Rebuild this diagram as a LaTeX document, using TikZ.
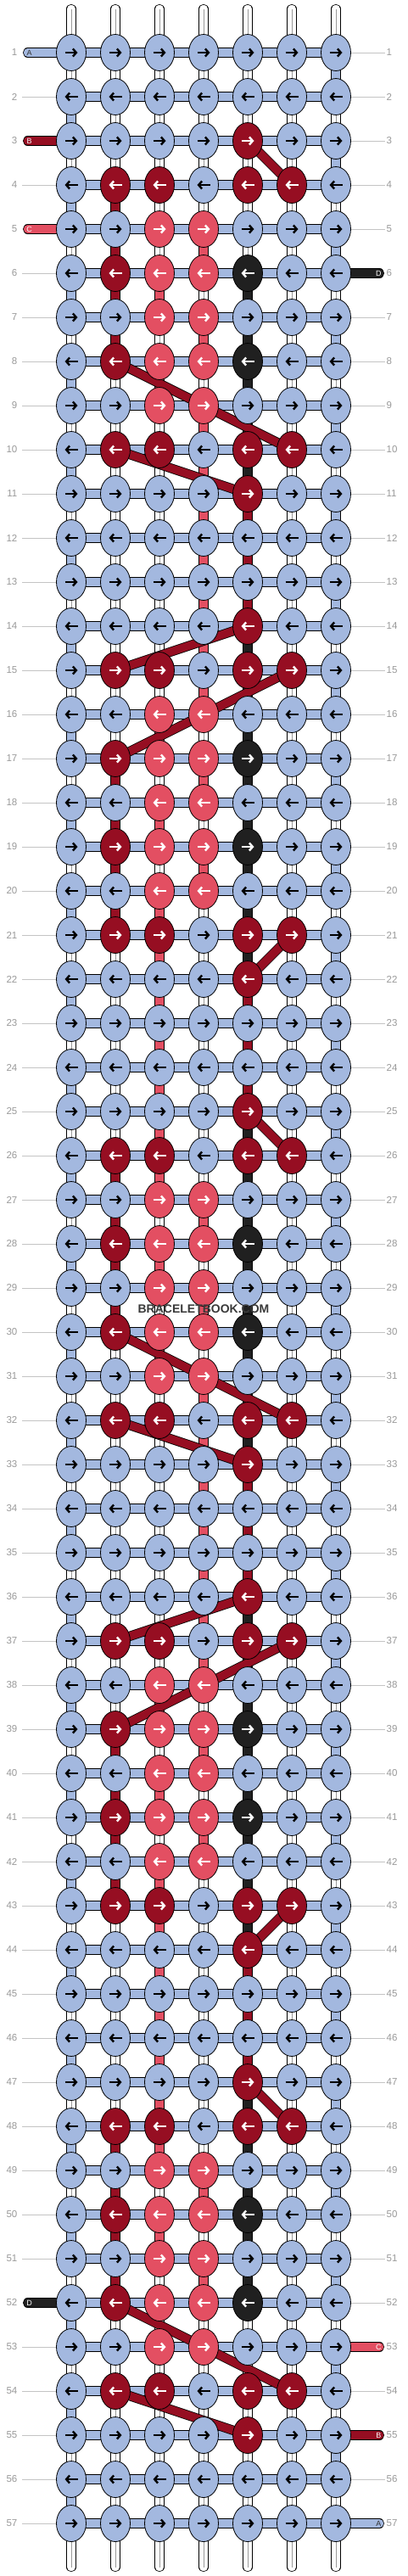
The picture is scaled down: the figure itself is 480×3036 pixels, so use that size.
\documentclass[tikz,border=0pt]{standalone}
\usepackage{fontspec}
\setmainfont{Liberation Sans}
\usetikzlibrary{shapes.geometric,arrows.meta}
\definecolor{cb}{HTML}{A3B8DF}
\definecolor{cr}{HTML}{960E22}
\definecolor{cp}{HTML}{E34F62}
\definecolor{ck}{HTML}{202020}
\definecolor{cnum}{HTML}{999999}
\definecolor{cline}{HTML}{C4C4C4}
\definecolor{cmark}{HTML}{3A3A3A}
\tikzset{
  knot/.style={ellipse, draw=black, line width=0.8pt, minimum width=35pt, minimum height=43pt, inner sep=0pt},
  band/.style={draw=black, line width=0.8pt, double=#1, double distance=9.6pt},
  tailband/.style={band=#1, line cap=round},
  strand/.style={draw=black!40, line width=0.6pt},
  rowline/.style={draw=cline, line width=1pt},
  rownum/.style={text=cnum, font=\fontsize{11.5}{12}\selectfont, inner sep=0pt},
  taillabel/.style={font=\fontsize{9}{9}\selectfont, inner sep=0pt},
  arr/.style={line width=2.4pt, -{Straight Barb[length=4pt,width=9pt]}},
  wmark/.style={font=\bfseries\fontsize{14}{14}\selectfont, text=cmark, inner sep=0pt}
}
\begin{document}
\begin{tikzpicture}[x=1pt,y=-1pt]
\useasboundingbox (0,0) rectangle (480,3036);
% grid coordinates
\foreach \ro in {1,...,57}{
  \foreach \co in {1,...,7}{
    \coordinate (k-\ro-\co) at ({84+52*(\co-1)},{62+52*(\ro-1)});
  }
  \coordinate (ll-\ro) at (26,{62+52*(\ro-1)});
  \coordinate (rl-\ro) at (454,{62+52*(\ro-1)});
  \node[rownum, anchor=east] (nl-\ro) at (20.5,{62+52*(\ro-1)}) {\ro};
  \node[rownum, anchor=west] (nr-\ro) at (455.5,{62+52*(\ro-1)}) {\ro};
}
\foreach \co in {1,...,7}{
  \coordinate (t-\co) at ({84+52*(\co-1)},10.5);
  \coordinate (b-\co) at ({84+52*(\co-1)},3025.5);
}
% row guide lines
\foreach \ro in {2,4,6,7,...,51,53,54,...,57}{
  \draw[rowline] (ll-\ro) -- (k-\ro-1);
}
\foreach \ro in {1,2,3,4,5,7,8,...,52,54,56}{
  \draw[rowline] (k-\ro-7) -- (rl-\ro);
}
% tails
\coordinate (tlA) at (32.6,62);
\coordinate (tlB) at (32.6,166);
\coordinate (tlC) at (32.6,270);
\coordinate (tlD) at (32.6,2714);
\coordinate (trD) at (447.4,322);
\coordinate (trC) at (447.4,2766);
\coordinate (trB) at (447.4,2870);
\coordinate (trA) at (447.4,2974);
\draw[tailband=cb] (tlA) -- (k-1-1);
\draw[tailband=cr] (tlB) -- (k-3-1);
\draw[tailband=cp] (tlC) -- (k-5-1);
\draw[tailband=ck] (tlD) -- (k-52-1);
\draw[tailband=ck] (trD) -- (k-6-7);
\draw[tailband=cp] (trC) -- (k-53-7);
\draw[tailband=cr] (trB) -- (k-55-7);
\draw[tailband=cb] (trA) -- (k-57-7);
\node[taillabel, text=black!80] (lA) at ([xshift=2pt]tlA) {A};
\node[taillabel, text=white] (lB) at ([xshift=2pt]tlB) {B};
\node[taillabel, text=white] (lC) at ([xshift=2pt]tlC) {C};
\node[taillabel, text=white] (lD) at ([xshift=2pt]tlD) {D};
\node[taillabel, text=white] (rD) at ([xshift=-1pt]trD) {D};
\node[taillabel, text=white] (rC) at ([xshift=-1pt]trC) {C};
\node[taillabel, text=white] (rB) at ([xshift=-1pt]trB) {B};
\node[taillabel, text=black!80] (rA) at ([xshift=-1pt]trA) {A};
% horizontal bars
\foreach \ro in {1,...,57}{
  \foreach \co [evaluate=\co as \cn using int(\co+1)] in {1,...,6}{
    \draw[band=cb] (k-\ro-\co) -- (k-\ro-\cn);
  }
}
% top and bottom strings
\foreach \co in {1,...,7}{
  \draw[tailband=white] (t-\co) -- (k-1-\co);
  \draw[strand] (t-\co) -- (k-1-\co);
  \draw[tailband=white] (k-57-\co) -- (b-\co);
  \draw[strand] (k-57-\co) -- (b-\co);
}
% vertical segments
\foreach \g in {1,...,56}{
  \pgfmathtruncatemacro\gn{\g+1}
  \foreach \co in {1,...,7}{
    \ifnum\g<6
      \pgfmathtruncatemacro\code{{0,0,0,0,0,0,4, 4,0,0,0,0,0,0, 0,0,0,0,0,0,4, 4,1,0,0,0,0,0, 0,1,0,2,0,0,4}[(\g-1)*7+\co-1]}
    \else\ifnum\g>51
      \def\code{0}
      \ifodd\g \ifnum\co=7 \def\code{4}\fi \else \ifnum\co=1 \def\code{4}\fi \fi
    \else
      \pgfmathtruncatemacro\code{{4,1,2,0,3,0,0, 0,1,0,2,3,0,4, 4,0,2,0,3,0,0, 0,0,0,2,3,0,4, 4,0,0,2,3,0,0, 0,0,0,2,1,0,4, 4,0,0,2,1,0,0, 0,0,0,2,1,0,4, 4,0,0,2,3,0,0, 0,0,0,2,3,0,4, 4,0,2,0,3,0,0, 0,1,0,2,3,0,4, 4,1,2,0,3,0,0, 0,1,0,2,3,0,4, 4,1,2,0,3,0,0, 0,0,2,0,3,0,4, 4,0,2,0,1,0,0, 0,0,2,0,1,0,4, 4,0,2,0,1,0,0, 0,0,2,0,3,0,4, 4,1,2,0,3,0,0, 0,1,0,2,3,0,4}[mod(\g-6,22)*7+\co-1]}
    \fi\fi
    \ifcase\code \def\sc{white}\or\def\sc{cr}\or\def\sc{cp}\or\def\sc{ck}\or\def\sc{cb}\fi
    \draw[band=\sc] (k-\g-\co) -- (k-\gn-\co);
    \ifnum\code=0 \draw[strand] (k-\g-\co) -- (k-\gn-\co);\fi
  }
}
% diagonal red threads
\foreach \b in {3,25,47}{
  \pgfmathtruncatemacro\ba{\b+1}
  \pgfmathtruncatemacro\bc{\b+5}
  \pgfmathtruncatemacro\bd{\b+6}
  \pgfmathtruncatemacro\be{\b+7}
  \pgfmathtruncatemacro\bf{\b+8}
  \draw[band=cr] (k-\b-5) -- (k-\ba-6);
  \draw[band=cr] (k-\bc-2) -- (k-\bd-4) -- (k-\be-6);
  \draw[band=cr] (k-\be-2) -- (k-\bf-5);
}
\foreach \b in {14,36}{
  \pgfmathtruncatemacro\ba{\b+1}
  \pgfmathtruncatemacro\bc{\b+2}
  \pgfmathtruncatemacro\bd{\b+3}
  \pgfmathtruncatemacro\be{\b+7}
  \pgfmathtruncatemacro\bf{\b+8}
  \draw[band=cr] (k-\b-5) -- (k-\ba-2);
  \draw[band=cr] (k-\ba-6) -- (k-\bc-4) -- (k-\bd-2);
  \draw[band=cr] (k-\be-6) -- (k-\bf-5);
}
% knots
\foreach \ro in {1,...,57}{
  \pgfmathtruncatemacro\mr{mod(\ro+8,11)}
  \foreach \co in {1,...,7}{
    \pgfmathtruncatemacro\code{{0,0,0,0,1,0,0, 0,1,1,0,1,1,0, 0,0,2,2,0,0,0, 0,1,2,2,3,0,0, 0,0,2,2,0,0,0, 0,1,2,2,3,0,0, 0,0,2,2,0,0,0, 0,1,1,0,1,1,0, 0,0,0,0,1,0,0, 0,0,0,0,0,0,0, 0,0,0,0,0,0,0}[\mr*7+\co-1]}
    \ifcase\code \def\kc{cb}\def\ac{black}\or\def\kc{cr}\def\ac{white}\or\def\kc{cp}\def\ac{white}\or\def\kc{ck}\def\ac{white}\fi
    \node[knot, fill=\kc] (n-\ro-\co) at (k-\ro-\co) {};
    \ifodd\ro
      \draw[arr, draw=\ac] ([xshift=-7.5pt]n-\ro-\co.center) -- ([xshift=7.5pt]n-\ro-\co.center);
    \else
      \draw[arr, draw=\ac] ([xshift=7.5pt]n-\ro-\co.center) -- ([xshift=-7.5pt]n-\ro-\co.center);
    \fi
  }
}
\node[wmark] (wm) at (240,1543) {BRACELETBOOK.COM};
\end{tikzpicture}
\end{document}
